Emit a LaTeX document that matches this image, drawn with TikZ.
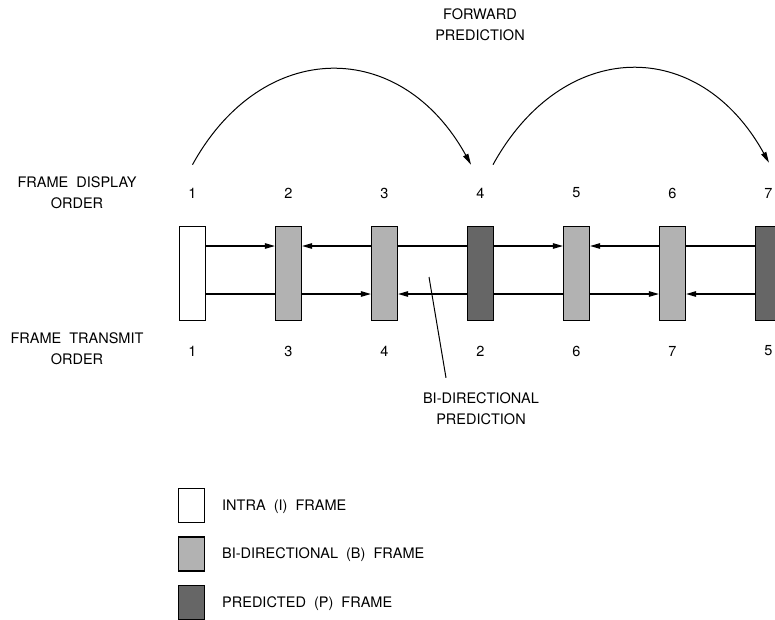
\documentclass[tikz,border=0pt]{standalone}
\usepackage{fontspec}
\setmainfont{TeX Gyre Heros}
\usepackage{xcolor}
\usetikzlibrary{arrows.meta,positioning,backgrounds}

\begin{document}
\begin{tikzpicture}[
  x=1pt,y=-1pt,
  font=\fontsize{14.5}{21}\selectfont,
  node distance=96pt, on grid,
  frm/.style={rectangle,draw=black,line width=1.2pt,minimum width=26pt,
              minimum height=94pt,inner sep=0pt},
  iframe/.style={frm,fill=white},
  bframe/.style={frm,fill=black!30},
  pframe/.style={frm,fill=black!60},
  keybox/.style={minimum height=34pt},
  num/.style={inner sep=2pt},
  lbl/.style={align=center,inner sep=2pt},
  keylbl/.style={anchor=west,inner sep=2pt},
  ref/.style={-{Triangle[length=10pt,width=5.5pt]},line width=1.1pt},
  fwd/.style={-{Triangle[length=11pt,width=5.5pt]},line width=1pt},
  pointer/.style={line width=1pt}
]
\useasboundingbox (0,0) rectangle (775,619);
\clip (0,0) rectangle (775,619);

% ===================== frames (display order) =====================
\node[iframe] (fr1) at (192.5,273.5) {};
\node[bframe,right=of fr1] (fr2) {};
\node[bframe,right=of fr2] (fr3) {};
\node[pframe,right=of fr3] (fr4) {};
\node[bframe,right=of fr4] (fr5) {};
\node[bframe,right=of fr5] (fr6) {};
\node[pframe,right=of fr6] (fr7) {};

% ===================== order numbers =====================
% display order (top row)
\node[num,above=80.5pt of fr1] (dn1) {1};
\node[num,above=80.5pt of fr2] (dn2) {2};
\node[num,above=80.5pt of fr3] (dn3) {3};
\node[num,above=80.5pt of fr4] (dn4) {4};
\node[num,above=80.5pt of fr5] (dn5) {5};
\node[num,above=80.5pt of fr6] (dn6) {6};
\node[num,above=80.5pt of fr7] (dn7) {7};
% transmit order (bottom row)
\node[num,below=77.5pt of fr1] (tn1) {1};
\node[num,below=77.5pt of fr2] (tn2) {3};
\node[num,below=77.5pt of fr3] (tn3) {4};
\node[num,below=77.5pt of fr4] (tn4) {2};
\node[num,below=77.5pt of fr5] (tn5) {6};
\node[num,below=77.5pt of fr6] (tn6) {7};
\node[num,below=77.5pt of fr7] (tn7) {5};

% ===================== labels =====================
\node[lbl] (disp) at (77,192.5) {FRAME~~DISPLAY\\ORDER};
\node[lbl] (trans) at (77,349) {FRAME~~TRANSMIT\\ORDER};
\node[lbl] (fwdlbl) at (480,24.5) {FORWARD\\PREDICTION};
\node[lbl,inner ysep=15pt] (bidir) at (481,409) {BI-DIRECTIONAL\\PREDICTION};

% ===================== legend =====================
\node[iframe,keybox] (key1) at (191.5,505.5) {};
\node[bframe,keybox,below=48.5pt of key1] (key2) {};
\node[pframe,keybox,below=48.5pt of key2] (key3) {};
\node[keylbl] (ktxt1) at (220,506.5) {INTRA~~(I)~~FRAME};
\node[keylbl] (ktxt2) at (220,555) {BI-DIRECTIONAL~~(B)~~FRAME};
\node[keylbl] (ktxt3) at (220,603.5) {PREDICTED~~(P)~~FRAME};

% ===================== edges =====================
\begin{scope}[on background layer]
  % upper references
  \draw[ref] ([yshift=27.5pt]fr1.east) -- ([yshift=27.5pt]fr2.west);
  \draw[ref] ([yshift=27.5pt]fr4.west) -- ([yshift=27.5pt]fr2.east);
  \draw[ref] ([yshift=27.5pt]fr4.east) -- ([yshift=27.5pt]fr5.west);
  \draw[ref] ([yshift=27.5pt]fr7.west) -- ([yshift=27.5pt]fr5.east);
  % lower references
  \draw[ref] ([yshift=-20.5pt]fr1.east) -- ([yshift=-20.5pt]fr3.west);
  \draw[ref] ([yshift=-20.5pt]fr4.west) -- ([yshift=-20.5pt]fr3.east);
  \draw[ref] ([yshift=-20.5pt]fr4.east) -- ([yshift=-20.5pt]fr6.west);
  \draw[ref] ([yshift=-20.5pt]fr7.west) -- ([yshift=-20.5pt]fr6.east);
\end{scope}

% forward prediction arcs
\draw[fwd] ([yshift=21pt]dn1.north) .. controls +(70,-127) and +(-70,-127) ..
  ([xshift=-9.5pt,yshift=21pt]dn4.north);
\draw[fwd] ([xshift=12.5pt,yshift=21pt]dn4.north) .. controls +(70,-127) and +(-70,-127) ..
  ([xshift=0.5pt,yshift=23pt]dn7.north);

% pointer to the bi-directional label
\coordinate (bdp) at (429,277);
\draw[pointer] (bdp) -- ([xshift=-35pt]bidir.north);

\end{tikzpicture}
\end{document}
